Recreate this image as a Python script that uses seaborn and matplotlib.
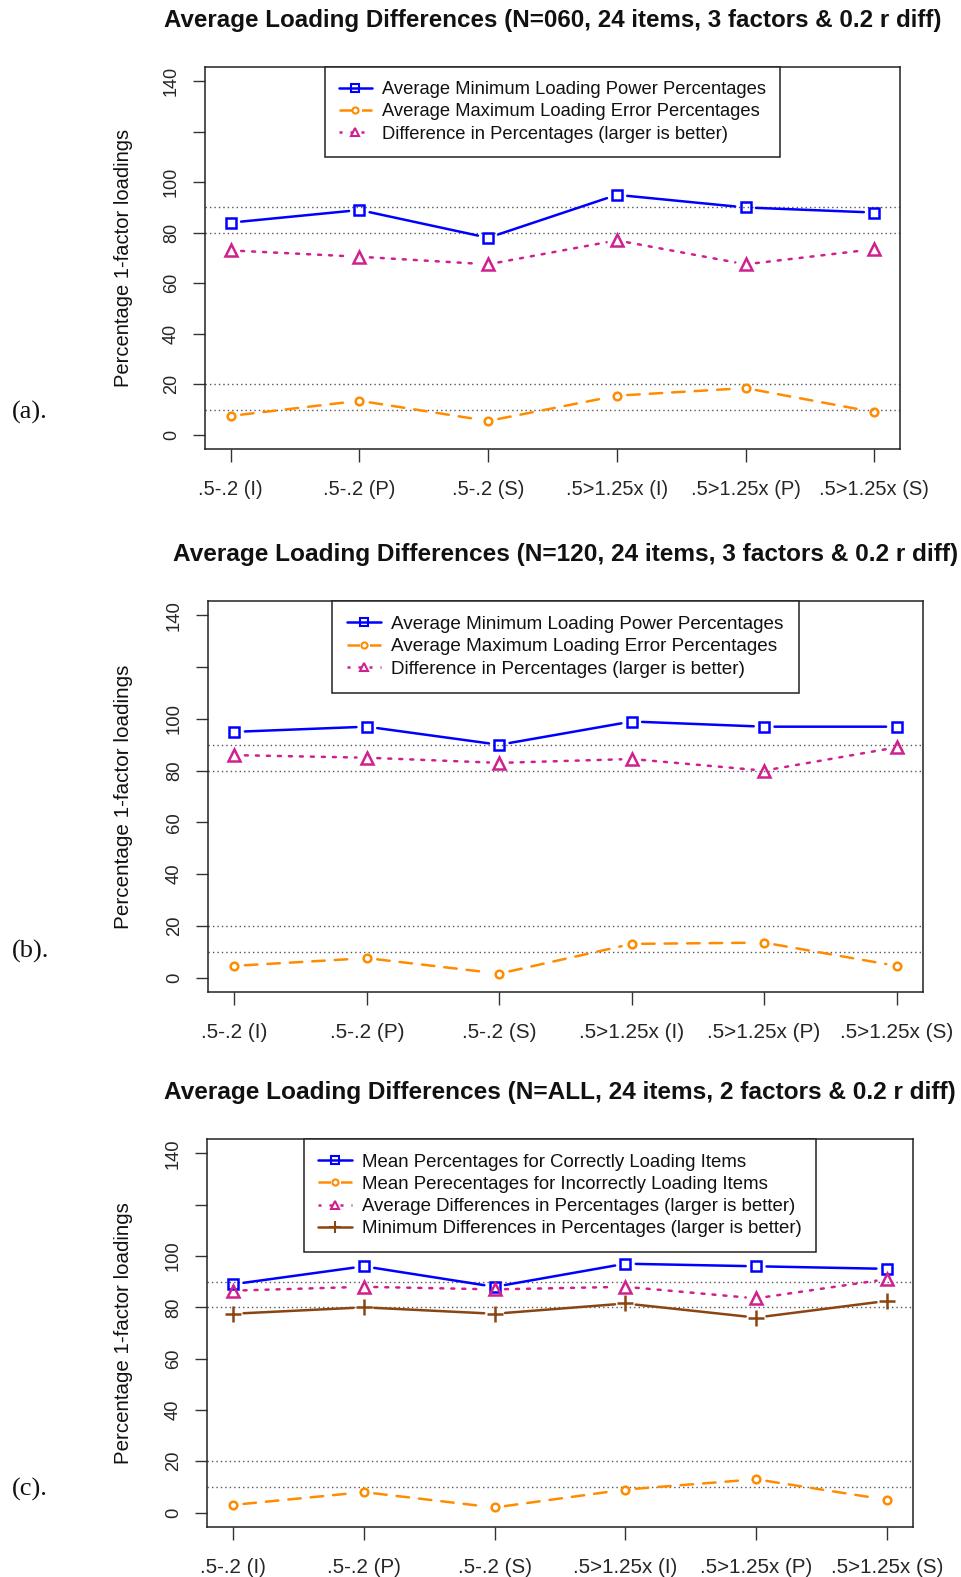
import matplotlib
matplotlib.use("Agg")
import matplotlib.pyplot as plt
from matplotlib.lines import Line2D
import numpy as np
import pandas as pd
import seaborn as sns

# ---------------------------------------------------------------- data
categories = [".5-.2 (I)", ".5-.2 (P)", ".5-.2 (S)",
              ".5>1.25x (I)", ".5>1.25x (P)", ".5>1.25x (S)"]

# (a) N = 60, 3 factors
min_power_060 = [84, 89, 78, 95, 90, 88]
max_error_060 = [7.5, 13.5, 5.5, 15.5, 18.5, 9]
diff_060 = [73, 70.5, 67.5, 77, 67.5, 73.5]

# (b) N = 120, 3 factors
min_power_120 = [95, 97, 90, 99, 97, 97]
max_error_120 = [4.5, 7.5, 1.5, 13, 13.5, 4.5]
diff_120 = [86, 85, 83, 84.5, 80, 89]

# (c) all N, 2 factors
correct_all = [89, 96, 88, 97, 96, 95]
incorrect_all = [3, 8, 2, 9, 13, 5]
avg_diff_all = [86.5, 88, 87, 88, 83.5, 91]
min_diff_all = [77.5, 80, 77.5, 81.5, 76, 82.5]

titles = [
    "Average Loading Differences (N=060, 24 items, 3 factors & 0.2 r diff)",
    "Average Loading Differences (N=120, 24 items, 3 factors & 0.2 r diff)",
    "Average Loading Differences (N=ALL, 24 items, 2 factors & 0.2 r diff)",
]
panel_tags = ["(a).", "(b).", "(c)."]
ref_levels = [10, 20, 80, 90]
y_ticks = [0, 20, 40, 60, 80, 100, 120, 140]
# the 120 label is dropped, as overlapping labels are skipped on this axis
y_tick_labels = ["0", "20", "40", "60", "80", "100", "", "140"]

legend_3 = ["Average Minimum Loading Power Percentages",
            "Average Maximum Loading Error Percentages",
            "Difference in Percentages (larger is better)"]
legend_4 = ["Mean Percentages for Correctly Loading Items",
            "Mean Perecentages for Incorrectly Loading Items",
            "Average Differences in Percentages (larger is better)",
            "Minimum Differences in Percentages (larger is better)"]

# ---------------------------------------------------------------- styles
BLUE, ORANGE, PINK, BROWN = "#0000FF", "#FF8C00", "#D02090", "#8B4513"
LW = 1.8
STYLES = {
    "power": dict(color=BLUE, ls="-", marker="s", ms=6.5),
    "error": dict(color=ORANGE, ls=(0, (5, 4)), marker="o", ms=5.5),
    "diff": dict(color=PINK, ls=(0, (1.2, 3.2)), marker="^", ms=8),
    "mindiff": dict(color=BROWN, ls="-", marker="+", ms=11),
}

sns.set_theme(style="white")
plt.rcParams["font.family"] = ["Liberation Sans", "DejaVu Sans"]

W, H = 961, 1577
fig = plt.figure(figsize=(W / 100, H / 100), dpi=100)

# axes boxes in pixels: left, top, right, bottom
boxes = [(205, 67, 900, 449), (208, 601, 923, 992), (207, 1139, 913, 1527)]
tag_y = [412, 951, 1489]
BASE_W, BASE_H = 695.0, 382.0

panels = [
    [("power", min_power_060, legend_3[0]),
     ("error", max_error_060, legend_3[1]),
     ("diff", diff_060, legend_3[2])],
    [("power", min_power_120, legend_3[0]),
     ("error", max_error_120, legend_3[1]),
     ("diff", diff_120, legend_3[2])],
    [("power", correct_all, legend_4[0]),
     ("error", incorrect_all, legend_4[1]),
     ("diff", avg_diff_all, legend_4[2]),
     ("mindiff", min_diff_all, legend_4[3])],
]

positions = np.arange(1, len(categories) + 1)

for i, (box, series) in enumerate(zip(boxes, panels)):
    l, t, r, b = box
    sx = (r - l) / BASE_W      # text scale for horizontal text of this panel
    sy = (b - t) / BASE_H      # text scale for rotated text of this panel
    ax = fig.add_axes([l / W, 1 - b / H, (r - l) / W, (b - t) / H])

    # dotted reference levels
    for lev in ref_levels:
        ax.axhline(lev, color="#555555", lw=1.0, ls=(0, (1, 2.2)), zorder=1)

    handles = []
    for key, vals, label in series:
        st = STYLES[key]
        df = pd.DataFrame({"pos": positions, "value": vals})
        # connecting segments with small gaps round each point
        for k in range(len(df) - 1):
            ax.annotate("", xy=(df.pos[k + 1], df.value[k + 1]),
                        xytext=(df.pos[k], df.value[k]),
                        xycoords="data", textcoords="data",
                        arrowprops=dict(arrowstyle="-", color=st["color"], lw=LW,
                                        linestyle=st["ls"], shrinkA=7.5, shrinkB=7.5),
                        zorder=3)
        sns.lineplot(data=df, x="pos", y="value", ax=ax, errorbar=None,
                     linestyle="none", marker=st["marker"], markersize=st["ms"],
                     color=st["color"], markerfacecolor="none",
                     markeredgecolor=st["color"], markeredgewidth=1.8, zorder=4)
        handles.append(Line2D([], [], color=st["color"], lw=LW, ls=st["ls"],
                              marker=st["marker"], markersize=st["ms"] * 0.8,
                              markerfacecolor="none", markeredgecolor=st["color"],
                              markeredgewidth=1.5))
    labels = [s[2] for s in series]

    ax.set_xlim(0.8, 6.2)
    ax.set_ylim(-5.6, 145.6)
    ax.set_xticks(positions)
    ax.set_xticklabels(categories, fontsize=14.5 * sx)
    ax.set_yticks(y_ticks)
    ax.set_yticklabels(y_tick_labels, fontsize=13 * sy)
    for lab in ax.get_yticklabels():
        lab.set_rotation(90)
        lab.set_va("center")
    ax.tick_params(axis="both", which="major", direction="out", length=9, width=1.0,
                   color="#333333", bottom=True, left=True, top=False, right=False)
    ax.tick_params(axis="x", pad=13)
    ax.tick_params(axis="y", pad=9)
    ax.set_xlabel("")
    ax.set_ylabel("Percentage 1-factor loadings", fontsize=14.5 * sy, color="#111111")
    ax.yaxis.set_label_coords((133 - l) / (r - l), 0.5)
    for sp in ax.spines.values():
        sp.set_visible(True)
        sp.set_color("#222222")
        sp.set_linewidth(1.1)

    ax.text(0.5, 1 + 47 / (b - t), titles[i], transform=ax.transAxes,
            ha="center", va="center", fontsize=17.4 * min(sx, 1.012),
            fontweight="bold", color="#111111")

    leg = ax.legend(handles, labels, loc="upper center", bbox_to_anchor=(0.5, 1.0),
                    borderaxespad=0, fontsize=13.2 * sx, frameon=True, fancybox=False,
                    edgecolor="#222222", framealpha=1, handlelength=1.8,
                    handletextpad=0.55, labelspacing=0.28, borderpad=0.78,
                    numpoints=1)
    leg.get_frame().set_linewidth(1.1)
    for txt in leg.get_texts():
        txt.set_color("#111111")

    fig.text(12 / W, 1 - tag_y[i] / H, panel_tags[i], ha="left", va="center",
             fontsize=19, family="Liberation Serif", color="#111111")

fig.savefig("out.png", dpi=100, facecolor="white")
